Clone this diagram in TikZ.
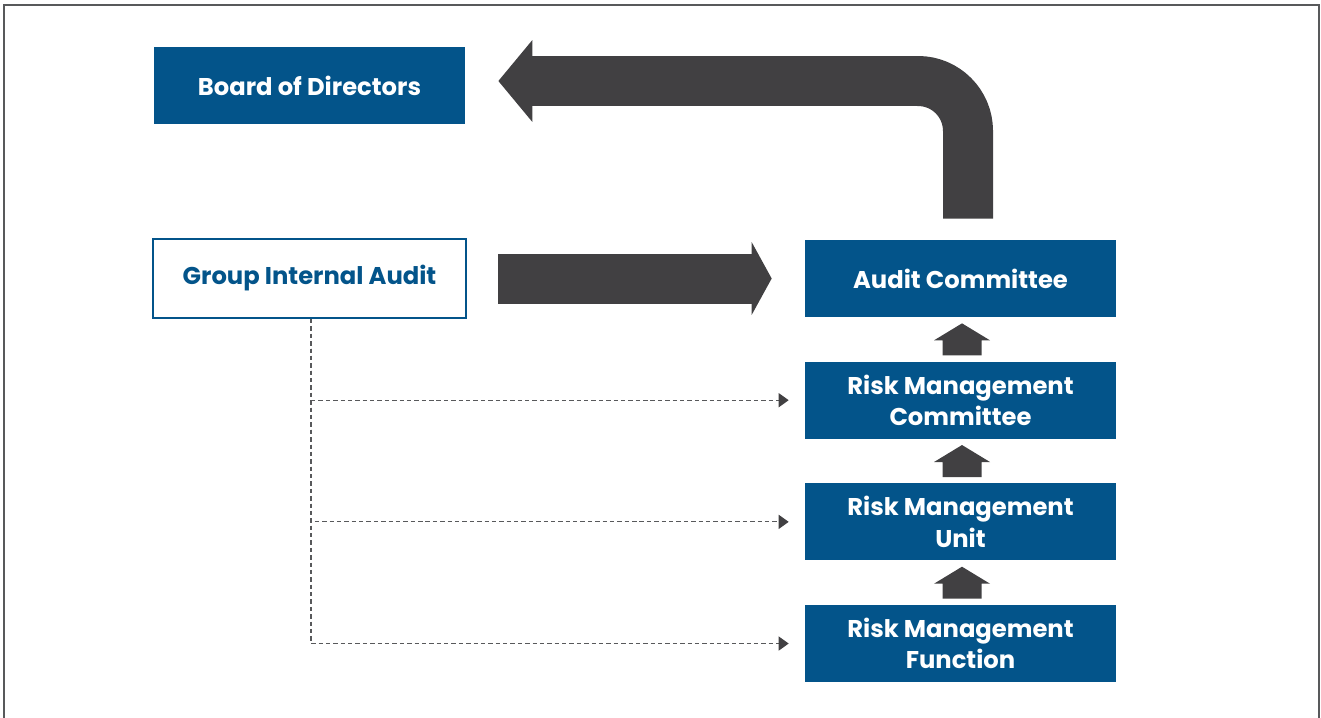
\documentclass[tikz,border=0pt]{standalone}
\usepackage{fontspec}
\setmainfont{Poppins}
\usetikzlibrary{arrows.meta,positioning,calc}
\definecolor{govblue}{HTML}{03548A}
\definecolor{arrowgray}{HTML}{414042}
\definecolor{dashgray}{HTML}{58595B}

\begin{document}
\begin{tikzpicture}[x=0.02cm, y=-0.02cm,
  orgbox/.style={fill=govblue, text=white, minimum width=6.22cm, minimum height=1.54cm,
               font=\fontsize{13.8}{17.8}\selectfont\bfseries, align=center, inner sep=0pt},
  auditbox/.style={orgbox, fill=white, draw=govblue, line width=1.2pt, text=govblue,
               minimum width=6.26cm, minimum height=1.58cm},
  dasharr/.style={dashgray, line width=0.65pt, dash pattern=on 2.5pt off 1.7pt,
               -{Triangle[length=5.7pt, width=8pt, fill=arrowgray, color=arrowgray]}},
  node distance=0.88cm,
]
  \useasboundingbox (0,0) rectangle (1321,717);
  % frame
  \draw[dashgray, line width=0.9pt] (4,720) -- (4,5) -- (1319,5) -- (1319,720);

  % boxes
  \node[orgbox] (bod) at (309.5,85.5) {Board of Directors};
  \node[auditbox] (gia) at (309.5,278.5) {Group Internal Audit};
  \node[orgbox] (ac) at (960.5,278.5) {Audit Committee};
  \node[orgbox, below=of ac] (rmc) {Risk Management\\Committee};
  \node[orgbox, below=of rmc] (rmu) {Risk Management\\Unit};
  \node[orgbox, below=of rmu] (rmf) {Risk Management\\Function};

  % big arrows
  \draw[arrowgray, line width=1cm, -{Triangle[length=0.4cm, width=1.44cm]}]
    ($(gia.east)+(31,0)$) -- ($(ac.west)+(-33,0)$);
  \draw[arrowgray, line width=1cm, rounded corners=1cm, -{Triangle[length=0.68cm, width=1.6cm]}]
    ($(ac.north)+(7.5,-21)$) |- ($(bod.east)+(33,-4.5)$);

  % small up arrows
  \foreach \a/\b in {rmc/ac, rmu/rmc, rmf/rmu}
    \fill[arrowgray] ($(\a.north)!0.5!(\b.south)+(1.5,0)$) ++(0,-16) -- ++(28,17)
      -- ++(-8.5,0) -- ++(0,15) -- ++(-39,0) -- ++(0,-15) -- ++(-8.5,0) -- cycle;

  % dashed links
  \foreach \b in {rmc, rmu, rmf}
    \draw[dasharr] ($(gia.south)+(1.5,0)$) |- ($(\b.west)+(-16,0)$);

\end{tikzpicture}
\end{document}
